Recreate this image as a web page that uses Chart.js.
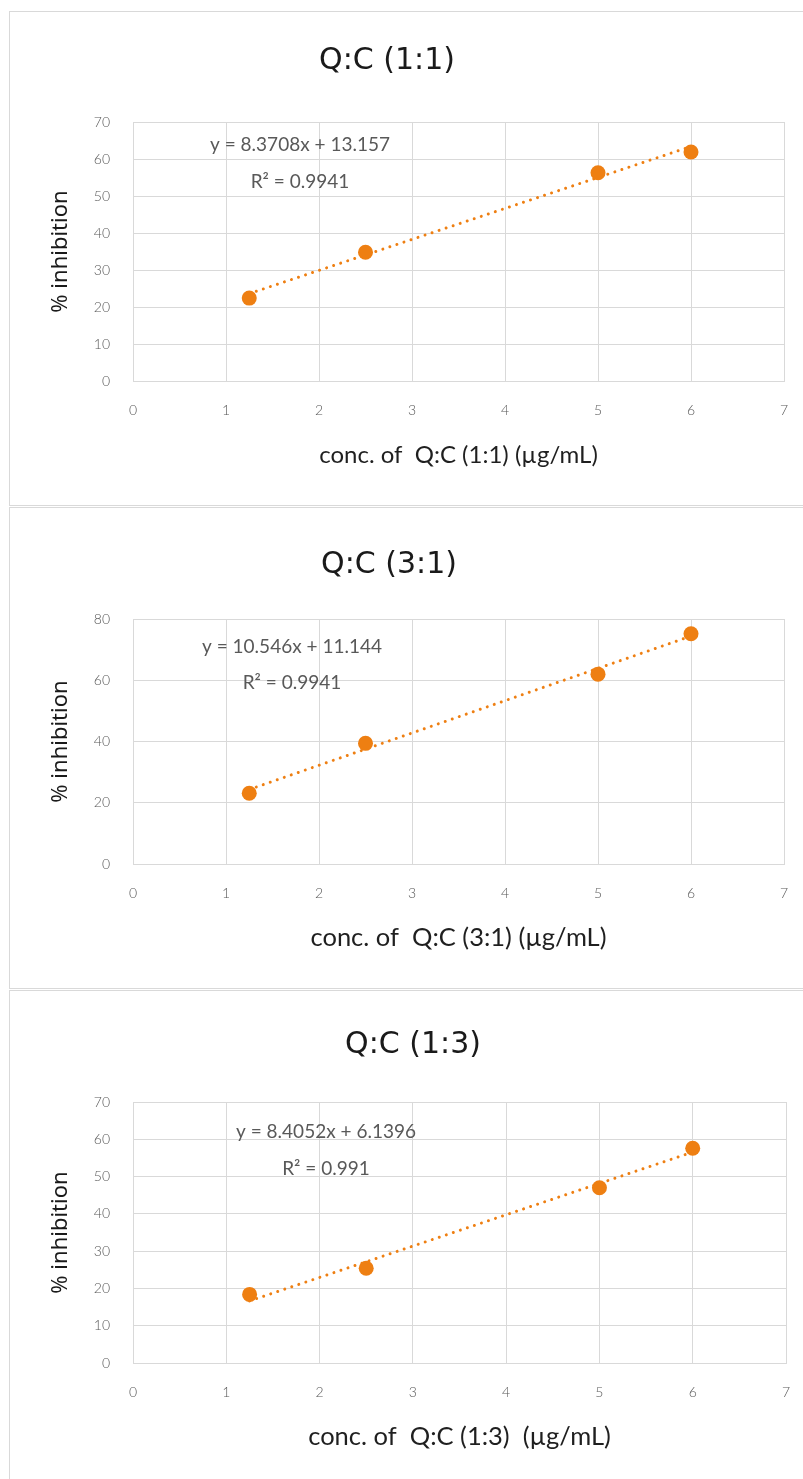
<!DOCTYPE html>
<html>
<head>
<meta charset="utf-8">
<title>% inhibition vs concentration</title>
<script src="https://cdn.jsdelivr.net/npm/chart.js@4.4.1/dist/chart.umd.min.js"></script>
<style>
  html, body { margin: 0; padding: 0; background: #fff; }
  body { position: relative; width: 803px; height: 1479px; overflow: hidden; }
  .panel { position: absolute; left: 9px; width: 830px; border: 1px solid #d9d9d9; box-sizing: border-box; background: #fff; }
  canvas { position: absolute; }
</style>
</head>
<body>
<div class="panel" style="top:11px;height:495px"></div>
<div class="panel" style="top:507px;height:482px"></div>
<div class="panel" style="top:990px;height:600px"></div>
<canvas id="chart0" width="794" height="494" style="left:9px;top:11px"></canvas>
<canvas id="chart1" width="794" height="480" style="left:9px;top:508px"></canvas>
<canvas id="chart2" width="794" height="494" style="left:9px;top:992px"></canvas>
<script>
// Concentrations tested (µg/mL)
const concentrations = [1.25, 2.5, 5, 6];

// % inhibition for each Q:C ratio
const inhibition11 = [22.4, 34.8, 56.3, 61.9];
const inhibition31 = [23.1, 39.4, 62.0, 75.2];
const inhibition13 = [18.4, 25.4, 47.0, 57.6];

// Linear trendline fits
const slopes = [8.3708, 10.546, 8.4052];
const intercepts = [13.157, 11.144, 6.1396];
const rSquared = [0.9941, 0.9941, 0.991];

// Text
const chartTitles = ['Q:C (1:1)', 'Q:C (3:1)', 'Q:C (1:3)'];
const xAxisTitles = ['conc. of  Q:C (1:1) (µg/mL)', 'conc. of  Q:C (3:1) (µg/mL)', 'conc. of  Q:C (1:3)  (µg/mL)'];
const yAxisTitle = '% inhibition';

// Axis ranges
const xTickMax = 7;
const yTickMax = [70, 80, 70];
const yTickStep = [10, 20, 10];

const seriesList = [inhibition11, inhibition31, inhibition13];

// Layout of each panel (canvas pixels)
const layouts = [
  { plotTop: 111, plotBottom: 370, rightPad: 19, title: [378, 50], xTitleSize: 24,   eq: [167, 23], r2: [167, 60] },
  { plotTop: 111, plotBottom: 356, rightPad: 19, title: [380, 57], xTitleSize: 25.5, eq: [159, 28], r2: [159, 64] },
  { plotTop: 110, plotBottom: 371, rightPad: 17, title: [404, 53], xTitleSize: 25.5, eq: [193, 30], r2: [193, 67] }
];

const ORANGE = '#EE7F12';
const GRID = '#d9d9d9';
const TICK_COLOR = '#595959';
const Y_AXIS_WIDTH = 124;

// Chart heading, placed above the plot area
const panelTitle = {
  id: 'panelTitle',
  afterDraw(chart, args, opts) {
    const { ctx } = chart;
    ctx.save();
    ctx.font = '30px "DejaVu Sans", sans-serif';
    ctx.fillStyle = '#1a1a1a';
    ctx.textAlign = 'center';
    ctx.textBaseline = 'middle';
    ctx.fillText(opts.text, opts.x, opts.y);
    ctx.restore();
  }
};

// Trendline equation and R² inside the plot area
const equationLabel = {
  id: 'equationLabel',
  afterDatasetsDraw(chart, args, opts) {
    const { ctx, chartArea } = chart;
    ctx.save();
    ctx.font = '19px Lato, "Open Sans", sans-serif';
    ctx.fillStyle = TICK_COLOR;
    ctx.textAlign = 'center';
    ctx.textBaseline = 'middle';
    ctx.fillText(opts.equation, chartArea.left + opts.eq[0], chartArea.top + opts.eq[1]);
    ctx.fillText(opts.r2Text, chartArea.left + opts.r2[0], chartArea.top + opts.r2[1]);
    ctx.restore();
  }
};

function buildChart(i) {
  const canvas = document.getElementById('chart' + i);
  const L = layouts[i];
  const H = canvas.height;
  const points = concentrations.map((x, k) => ({ x, y: seriesList[i][k] }));
  const xMin = Math.min(...concentrations);
  const xMax = Math.max(...concentrations);
  const trend = [xMin, xMax].map(x => ({ x, y: slopes[i] * x + intercepts[i] }));

  const xAxisHeight = H - L.plotBottom;
  const xTitlePadBottom = xAxisHeight - 74 - L.xTitleSize * 1.2 / 2;

  const yTitleSize = 22;
  const yTitlePadTop = 52 - yTitleSize * 1.2 / 2;

  return new Chart(canvas, {
    type: 'scatter',
    data: {
      datasets: [
        {
          label: 'data',
          data: points,
          backgroundColor: ORANGE,
          borderColor: ORANGE,
          borderWidth: 0,
          pointRadius: 7.5,
          pointHoverRadius: 7.5,
          showLine: false
        },
        {
          label: 'trend',
          data: trend,
          showLine: true,
          borderColor: ORANGE,
          borderWidth: 3,
          borderDash: [0.01, 7.4],
          borderCapStyle: 'round',
          pointRadius: 0,
          fill: false
        }
      ]
    },
    options: {
      responsive: false,
      animation: false,
      events: [],
      layout: { padding: { left: 0, right: L.rightPad, top: L.plotTop, bottom: 0 } },
      plugins: {
        legend: { display: false },
        tooltip: { enabled: false },
        title: { display: false },
        panelTitle: { text: chartTitles[i], x: L.title[0], y: L.title[1] },
        equationLabel: {
          equation: 'y = ' + slopes[i] + 'x + ' + intercepts[i],
          r2Text: 'R² = ' + rSquared[i],
          eq: L.eq,
          r2: L.r2
        }
      },
      scales: {
        x: {
          type: 'linear',
          min: 0,
          max: xTickMax,
          afterFit(scale) {
            scale.height = xAxisHeight;
            scale.paddingLeft = 0;
            scale.paddingRight = 0;
          },
          ticks: {
            stepSize: 1,
            color: TICK_COLOR,
            padding: 21,
            font: { family: 'Lato, sans-serif', size: 14, weight: '300' }
          },
          grid: { color: GRID, lineWidth: 1, drawTicks: false },
          border: { color: GRID, width: 1 },
          title: {
            display: true,
            text: xAxisTitles[i],
            color: '#1f1f1f',
            font: { family: 'Lato, sans-serif', size: L.xTitleSize, lineHeight: 1.2 },
            padding: { top: 0, bottom: xTitlePadBottom }
          }
        },
        y: {
          type: 'linear',
          min: 0,
          max: yTickMax[i],
          afterFit(scale) {
            scale.width = Y_AXIS_WIDTH;
            scale.paddingTop = 0;
            scale.paddingBottom = 0;
          },
          ticks: {
            stepSize: yTickStep[i],
            color: TICK_COLOR,
            padding: 23,
            font: { family: 'Lato, sans-serif', size: 14, weight: '300' }
          },
          grid: { color: GRID, lineWidth: 1, drawTicks: false },
          border: { color: GRID, width: 1 },
          title: {
            display: true,
            text: yAxisTitle,
            color: '#1a1a1a',
            font: { family: '"Noto Sans", sans-serif', size: yTitleSize, lineHeight: 1.2 },
            padding: { top: yTitlePadTop, bottom: 0 }
          }
        }
      }
    },
    plugins: [panelTitle, equationLabel]
  });
}

[0, 1, 2].forEach(buildChart);
</script>
</body>
</html>
